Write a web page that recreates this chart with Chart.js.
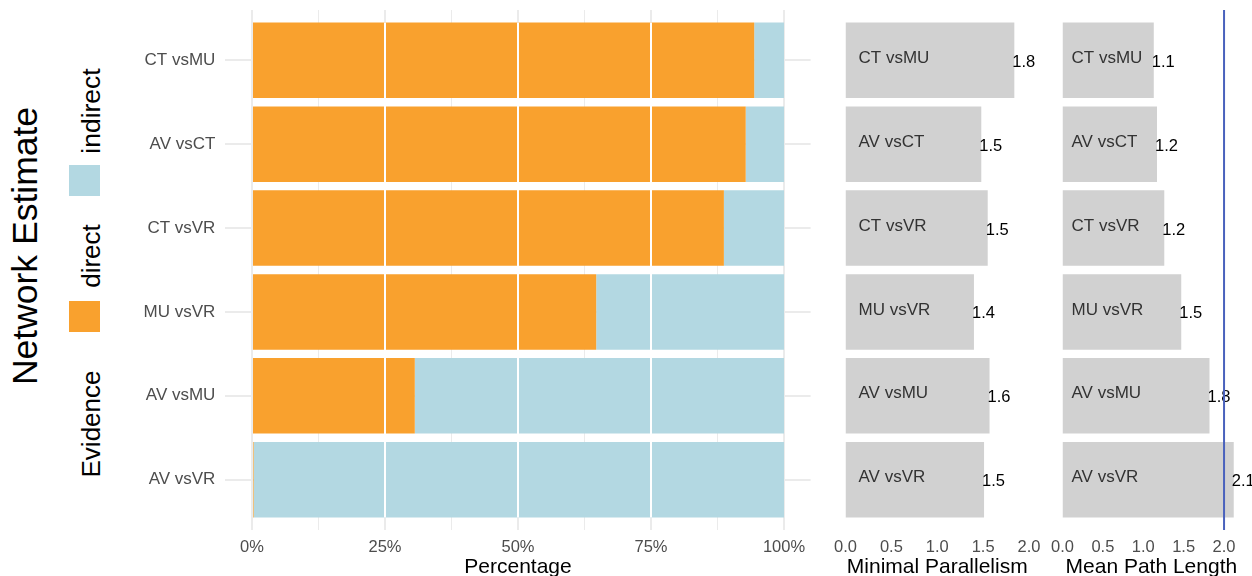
<!DOCTYPE html>
<html><head><meta charset="utf-8">
<script src="https://cdn.jsdelivr.net/npm/chart.js@4.4.1/dist/chart.umd.min.js"></script>
<style>
body{margin:0;width:1252px;height:576px;background:#fff;position:relative;overflow:hidden;font-family:"Liberation Sans",Arial,Helvetica,sans-serif;}
.c{position:absolute;top:0;height:576px;}
.rot{position:absolute;transform:translate(-50%,-50%) rotate(-90deg);white-space:nowrap;line-height:1;color:#000;}
.key{position:absolute;width:31px;height:31px;}
</style></head><body>
<div class="rot" style="left:26px;top:246px;font-size:35.5px;">Network Estimate</div>
<div class="rot" style="left:91px;top:424px;font-size:26px;">Evidence</div>
<div class="key" style="left:69px;top:301px;background:#F9A12E;"></div>
<div class="rot" style="left:91px;top:256px;font-size:26px;">direct</div>
<div class="key" style="left:69px;top:165px;background:#B3D8E2;"></div>
<div class="rot" style="left:91px;top:111px;font-size:26.5px;">indirect</div>

<div class="c" style="left:120px;width:700px"><canvas id="c1"></canvas></div>
<div class="c" style="left:830px;width:215px"><canvas id="c2"></canvas></div>
<div class="c" style="left:1045px;width:207px"><canvas id="c3"></canvas></div>
<script>
// ---- data ----
const categories = ['CT vsMU', 'AV vsCT', 'CT vsVR', 'MU vsVR', 'AV vsMU', 'AV vsVR'];
const directPct = [94.4, 92.8, 88.7, 64.7, 30.6, 0.3];
const indirectPct = [5.6, 7.2, 11.3, 35.3, 69.4, 99.7];
const percentTicks = [0, 12.5, 25, 37.5, 50, 62.5, 75, 87.5, 100];
const percentLabelTicks = [0, 25, 50, 75, 100];
const minimalParallelism = [1.84, 1.48, 1.55, 1.40, 1.57, 1.51];
const minimalParallelismLabels = ['1.8', '1.5', '1.5', '1.4', '1.6', '1.5'];
const meanPathLength = [1.13, 1.17, 1.26, 1.47, 1.82, 2.12];
const meanPathLengthLabels = ['1.1', '1.2', '1.2', '1.5', '1.8', '2.1'];
const metricTicks = [0, 0.5, 1, 1.5, 2];
const referenceLineValue = 2.0;

const FAM = '"Liberation Sans", Arial, Helvetica, sans-serif';
Chart.defaults.font.family = FAM;
const TICK_FONT = {family: FAM, size: 16.5};
const TITLE_FONT = {family: FAM, size: 21, lineHeight: 1};
const idx = categories.map((c, i) => i);

const yScaleCommon = {
  type: 'linear', reverse: true, min: -0.6, max: 5.6, stacked: true, offset: false,
  afterBuildTicks: a => { a.ticks = idx.map(v => ({value: v})); },
  border: {display: false}
};
const xFit = s => { s.height = 46; s.paddingLeft = 0; s.paddingRight = 0; };
const yFit = w => s => { s.width = w; s.paddingTop = 0; s.paddingBottom = 0; };

// white separators on top of the stacked bars
const whiteLines = {
  id: 'whiteLines',
  afterDatasetsDraw(chart) {
    const ctx = chart.ctx, xs = chart.scales.x;
    let top = Infinity, bot = -Infinity;
    chart.getDatasetMeta(0).data.forEach(b => {
      const p = b.getProps(['y', 'height'], true);
      top = Math.min(top, p.y - p.height / 2);
      bot = Math.max(bot, p.y + p.height / 2);
    });
    ctx.save();
    ctx.strokeStyle = '#ffffff'; ctx.lineWidth = 2;
    [25, 50, 75].forEach(v => {
      const px = xs.getPixelForValue(v);
      ctx.beginPath(); ctx.moveTo(px, top); ctx.lineTo(px, bot); ctx.stroke();
    });
    ctx.restore();
  }
};

new Chart(document.getElementById('c1'), {
  type: 'bar',
  data: {datasets: [
    {label: 'direct', data: idx.map(i => ({x: directPct[i], y: i})), backgroundColor: '#F9A12E'},
    {label: 'indirect', data: idx.map(i => ({x: indirectPct[i], y: i})), backgroundColor: '#B3D8E2'}
  ]},
  options: {
    indexAxis: 'y', responsive: true, maintainAspectRatio: false, animation: false,
    categoryPercentage: 0.9, barPercentage: 1,
    layout: {padding: {top: 10, right: 9.4, left: 0, bottom: 0}},
    plugins: {legend: {display: false}, tooltip: {enabled: false}},
    scales: {
      x: {
        type: 'linear', stacked: true, min: -5, max: 105,
        afterBuildTicks: a => { a.ticks = percentTicks.map(v => ({value: v})); },
        afterFit: xFit,
        ticks: {callback: v => percentLabelTicks.includes(v) ? v + '%' : '', font: TICK_FONT, color: '#4D4D4D', padding: 8, autoSkip: false, maxRotation: 0},
        grid: {color: '#EBEBEB', lineWidth: c => (c.tick && percentLabelTicks.includes(c.tick.value)) ? 2 : 1, drawTicks: false},
        border: {display: false},
        title: {display: true, text: 'Percentage', font: TITLE_FONT, color: '#000', padding: {top: 0, bottom: -2}}
      },
      y: Object.assign({}, yScaleCommon, {
        afterFit: yFit(105.4),
        ticks: {callback: v => categories[v], font: {family: FAM, size: 17}, color: '#4D4D4D', padding: 10, autoSkip: false},
        grid: {color: '#EBEBEB', lineWidth: 2, drawTicks: false, offset: false}
      })
    }
  },
  plugins: [whiteLines]
});

function barLabels(valueLabels, offsetPx) {
  return {
    id: 'barLabels',
    afterDatasetsDraw(chart) {
      const ctx = chart.ctx;
      chart.getDatasetMeta(0).data.forEach((b, i) => {
        const p = b.getProps(['x', 'y', 'base'], true);
        ctx.save();
        ctx.font = '17px ' + FAM;
        ctx.textAlign = 'left'; ctx.textBaseline = 'middle';
        ctx.fillStyle = '#333333';
        ctx.fillText(categories[i], p.base + offsetPx, p.y - 2);
        ctx.font = '16.5px ' + FAM;
        ctx.fillStyle = '#000000';
        ctx.fillText(valueLabels[i], p.x - 2, p.y + 2);
        ctx.restore();
      });
    }
  };
}

const refLine = {
  id: 'refLine',
  afterDatasetsDraw(chart) {
    const ctx = chart.ctx, a = chart.chartArea;
    const px = chart.scales.x.getPixelForValue(referenceLineValue);
    ctx.save();
    ctx.strokeStyle = '#4A62BD'; ctx.lineWidth = 2;
    ctx.beginPath(); ctx.moveTo(px, a.top); ctx.lineTo(px, a.bottom); ctx.stroke();
    ctx.restore();
  }
};

function metricChart(id, values, labels, title, maxV, pad, offsetPx, extra) {
  return new Chart(document.getElementById(id), {
    type: 'bar',
    data: {datasets: [{label: title, data: idx.map(i => ({x: values[i], y: i})), backgroundColor: '#D1D1D1'}]},
    options: {
      indexAxis: 'y', responsive: true, maintainAspectRatio: false, animation: false,
      categoryPercentage: 0.9, barPercentage: 1,
      layout: {padding: {top: 10, left: pad[0], right: pad[1], bottom: 0}},
      plugins: {legend: {display: false}, tooltip: {enabled: false}},
      scales: {
        x: {
          type: 'linear', min: 0, max: maxV,
          afterBuildTicks: a => { a.ticks = metricTicks.map(v => ({value: v})); },
          afterFit: xFit,
          ticks: {callback: v => v.toFixed(1), font: TICK_FONT, color: '#4D4D4D', padding: 8, autoSkip: false, maxRotation: 0},
          grid: {display: false, drawTicks: false},
          border: {display: false},
          title: {display: true, text: title, font: TITLE_FONT, color: '#000', padding: {top: 0, bottom: -2}}
        },
        y: Object.assign({}, yScaleCommon, {
          stacked: false,
          afterFit: yFit(0),
          ticks: {display: false},
          grid: {display: false, drawTicks: false, offset: false}
        })
      }
    },
    plugins: [barLabels(labels, offsetPx)].concat(extra)
  });
}

metricChart('c2', minimalParallelism, minimalParallelismLabels, 'Minimal Parallelism', 2.0, [15.5, 16], 13, []);
metricChart('c3', meanPathLength, meanPathLengthLabels, 'Mean Path Length', 2.2, [17.5, 11.8], 9, [refLine]);
</script>
</body></html>
